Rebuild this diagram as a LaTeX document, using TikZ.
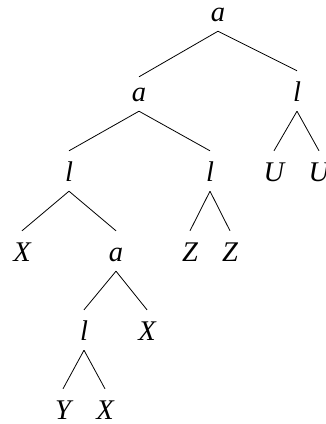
\documentclass[tikz,border=0pt]{standalone}
\usepackage{fontspec}
\setmainfont{Liberation Serif}
\begin{document}
\begin{tikzpicture}[x=1pt,y=-1pt,
  tn/.style={anchor=base,inner sep=0pt,text height=30pt,text depth=10pt,
    font=\fontsize{28.5}{30}\selectfont\itshape},
  edge/.style={line width=0.8pt}]
\useasboundingbox (0,0) rectangle (326,424);
\node[tn] (root) at (218,21) {a};
\node[tn] (a2) at (139,101) {a};
\node[tn] (lR) at (297,101) {l};
\node[tn] (lL) at (69,181) {l};
\node[tn] (lM) at (210,181) {l};
\node[tn] (U1) at (274,181) {U};
\node[tn] (U2) at (319,181) {U};
\node[tn] (X1) at (22,261) {X};
\node[tn] (a3) at (116,261) {a};
\node[tn] (Z1) at (190,261) {Z};
\node[tn] (Z2) at (230,261) {Z};
\node[tn] (l3) at (84,340) {l};
\node[tn] (X2) at (147,340) {X};
\node[tn] (Y) at (63,419) {Y};
\node[tn] (X3) at (105,419) {X};
\draw[edge] (root.south) -- ([yshift=-6pt]a2.north);
\draw[edge] (root.south) -- (lR.north);
\draw[edge] (a2.south) -- (lL.north);
\draw[edge] (a2.south) -- (lM.north);
\draw[edge] (lR.south) -- (U1.north);
\draw[edge] (lR.south) -- (U2.north);
\draw[edge] (lL.south) -- (X1.north);
\draw[edge] (lL.south) -- (a3.north);
\draw[edge] (lM.south) -- (Z1.north);
\draw[edge] (lM.south) -- (Z2.north);
\draw[edge] (a3.south) -- (l3.north);
\draw[edge] (a3.south) -- (X2.north);
\draw[edge] (l3.south) -- (Y.north);
\draw[edge] (l3.south) -- (X3.north);
\end{tikzpicture}
\end{document}
